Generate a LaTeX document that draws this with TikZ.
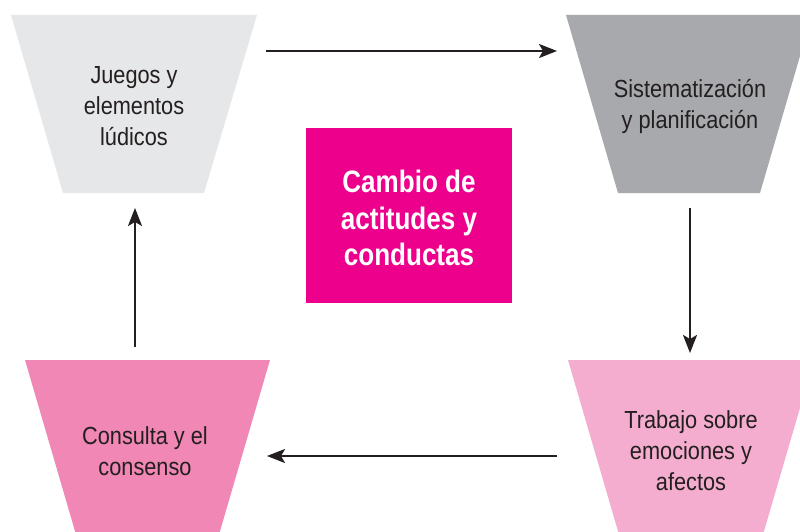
\documentclass[tikz,border=0pt]{standalone}
\usepackage{fontspec}
\setmainfont{Liberation Sans}[FakeStretch=0.88]
\newfontfamily\titlefont{Liberation Sans}[FakeStretch=0.84]
\usetikzlibrary{arrows.meta}
\definecolor{lgray}{HTML}{E6E7E8}
\definecolor{mgray}{HTML}{A7A9AC}
\definecolor{pinkA}{HTML}{F087B5}
\definecolor{pinkB}{HTML}{F4ADCE}
\definecolor{magent}{HTML}{EC008C}
\definecolor{ink}{HTML}{231F20}
\tikzset{
  lbl/.style={align=center, text=ink, font=\fontsize{24.7}{31}\selectfont},
  flow/.style={draw=ink, line width=2.2pt, -{Stealth[length=18pt,width=14pt,inset=4pt]}},
}
\begin{document}
\begin{tikzpicture}[x=1pt,y=-1pt]
\useasboundingbox (0,0) rectangle (800,532);
\clip (0,0) rectangle (800,532);
% trapezoids
\fill[lgray] (11,15) -- (257,15) -- (204,193) -- (63,193) -- cycle;
\fill[mgray] (566,15) -- (812,15) -- (760,193) -- (618,193) -- cycle;
\fill[pinkA] (25,360) -- (270,360) -- (218,538) -- (77,538) -- cycle;
\fill[pinkB] (568,360) -- (814,360) -- (762,538) -- (620,538) -- cycle;
% centre box
\node[fill=magent, minimum width=206pt, minimum height=175pt, inner sep=0pt] (core) at (409,215.5) {};
\node[align=center, text=white, font=\titlefont\bfseries\fontsize{31}{36.5}\selectfont] (coretxt) at (409,218) {Cambio de\\actitudes y\\conductas};
% labels
\node[lbl] (juegos) at (134,106) {Juegos y\\elementos\\lúdicos};
\node[lbl] (sist) at (690,106) {Sistematización\\y planificación};
\node[lbl] (cons) at (145,451) {Consulta y el\\consenso};
\node[lbl] (trab) at (691,451) {Trabajo sobre\\emociones y\\afectos};
% arrow ends
\coordinate (a1s) at (266,51); \coordinate (a1e) at (557,51);
\coordinate (a2s) at (690,208); \coordinate (a2e) at (690,353);
\coordinate (a3s) at (557,456); \coordinate (a3e) at (267,456);
\coordinate (a4s) at (135,347); \coordinate (a4e) at (135,208);
\draw[flow] (a1s) -- (a1e);
\draw[flow] (a2s) -- (a2e);
\draw[flow] (a3s) -- (a3e);
\draw[flow] (a4s) -- (a4e);
\end{tikzpicture}
\end{document}
